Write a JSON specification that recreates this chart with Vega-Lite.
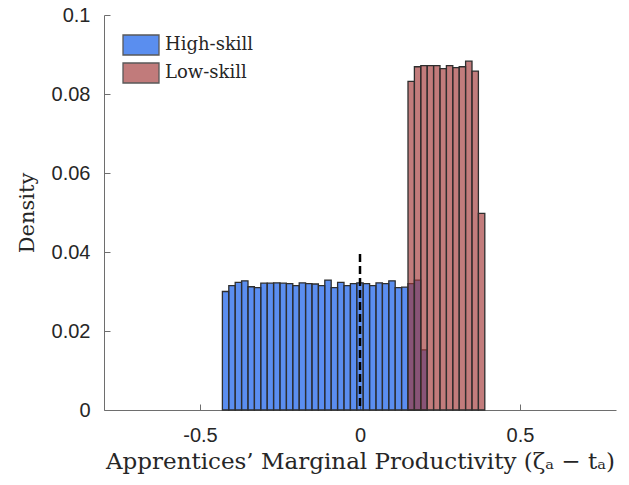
{
  "$schema": "https://vega.github.io/schema/vega-lite/v6.json",
  "width": 512,
  "height": 395,
  "autosize": "none",
  "padding": {"left": 104, "top": 15, "right": 13, "bottom": 75},
  "background": "white",
  "datasets": {
    "bins": [
      {"series": "High-skill", "x0": -0.43, "x1": -0.41, "density": 0.0300},
      {"series": "High-skill", "x0": -0.41, "x1": -0.39, "density": 0.0315},
      {"series": "High-skill", "x0": -0.39, "x1": -0.37, "density": 0.0323},
      {"series": "High-skill", "x0": -0.37, "x1": -0.35, "density": 0.0327},
      {"series": "High-skill", "x0": -0.35, "x1": -0.33, "density": 0.0312},
      {"series": "High-skill", "x0": -0.33, "x1": -0.31, "density": 0.0310},
      {"series": "High-skill", "x0": -0.31, "x1": -0.29, "density": 0.0321},
      {"series": "High-skill", "x0": -0.29, "x1": -0.27, "density": 0.0321},
      {"series": "High-skill", "x0": -0.27, "x1": -0.25, "density": 0.0322},
      {"series": "High-skill", "x0": -0.25, "x1": -0.23, "density": 0.0321},
      {"series": "High-skill", "x0": -0.23, "x1": -0.21, "density": 0.0320},
      {"series": "High-skill", "x0": -0.21, "x1": -0.19, "density": 0.0315},
      {"series": "High-skill", "x0": -0.19, "x1": -0.17, "density": 0.0322},
      {"series": "High-skill", "x0": -0.17, "x1": -0.15, "density": 0.0320},
      {"series": "High-skill", "x0": -0.15, "x1": -0.13, "density": 0.0319},
      {"series": "High-skill", "x0": -0.13, "x1": -0.11, "density": 0.0315},
      {"series": "High-skill", "x0": -0.11, "x1": -0.09, "density": 0.0329},
      {"series": "High-skill", "x0": -0.09, "x1": -0.07, "density": 0.0310},
      {"series": "High-skill", "x0": -0.07, "x1": -0.05, "density": 0.0323},
      {"series": "High-skill", "x0": -0.05, "x1": -0.03, "density": 0.0315},
      {"series": "High-skill", "x0": -0.03, "x1": -0.01, "density": 0.0320},
      {"series": "High-skill", "x0": -0.01, "x1": 0.01, "density": 0.0322},
      {"series": "High-skill", "x0": 0.01, "x1": 0.03, "density": 0.0320},
      {"series": "High-skill", "x0": 0.03, "x1": 0.05, "density": 0.0315},
      {"series": "High-skill", "x0": 0.05, "x1": 0.07, "density": 0.0322},
      {"series": "High-skill", "x0": 0.07, "x1": 0.09, "density": 0.0320},
      {"series": "High-skill", "x0": 0.09, "x1": 0.11, "density": 0.0327},
      {"series": "High-skill", "x0": 0.11, "x1": 0.13, "density": 0.0310},
      {"series": "High-skill", "x0": 0.13, "x1": 0.15, "density": 0.0311},
      {"series": "High-skill", "x0": 0.15, "x1": 0.17, "density": 0.0320},
      {"series": "High-skill", "x0": 0.17, "x1": 0.19, "density": 0.0329},
      {"series": "High-skill", "x0": 0.19, "x1": 0.21, "density": 0.0152},
      {"series": "Low-skill", "x0": 0.15, "x1": 0.17, "density": 0.0832},
      {"series": "Low-skill", "x0": 0.17, "x1": 0.19, "density": 0.0869},
      {"series": "Low-skill", "x0": 0.19, "x1": 0.21, "density": 0.0872},
      {"series": "Low-skill", "x0": 0.21, "x1": 0.23, "density": 0.0872},
      {"series": "Low-skill", "x0": 0.23, "x1": 0.25, "density": 0.0872},
      {"series": "Low-skill", "x0": 0.25, "x1": 0.27, "density": 0.0864},
      {"series": "Low-skill", "x0": 0.27, "x1": 0.29, "density": 0.0872},
      {"series": "Low-skill", "x0": 0.29, "x1": 0.31, "density": 0.0867},
      {"series": "Low-skill", "x0": 0.31, "x1": 0.33, "density": 0.0869},
      {"series": "Low-skill", "x0": 0.33, "x1": 0.35, "density": 0.0883},
      {"series": "Low-skill", "x0": 0.35, "x1": 0.37, "density": 0.0858},
      {"series": "Low-skill", "x0": 0.37, "x1": 0.39, "density": 0.0498}
    ],
    "marker": [{"x": 0, "top": 0.0395, "bottom": 0}]
  },
  "layer": [
    {
      "data": {"name": "bins"},
      "mark": {"type": "bar", "fillOpacity": 0.65, "stroke": "#2e2e2e", "strokeWidth": 1.3},
      "encoding": {
        "x": {
          "field": "x0", "type": "quantitative",
          "scale": {"domain": [-0.8, 0.8], "nice": false, "zero": false},
          "axis": {
            "title": "Apprentices’ Marginal Productivity (ζₐ − tₐ)",
            "values": [-0.5, 0, 0.5],
            "format": "~g",
            "labelExpr": "replace(datum.label, '−', '-')"
          }
        },
        "x2": {"field": "x1"},
        "y": {
          "field": "density", "type": "quantitative",
          "scale": {"domain": [0, 0.1], "nice": false},
          "axis": {
            "title": "Density",
            "values": [0, 0.02, 0.04, 0.06, 0.08, 0.1],
            "format": "~g"
          }
        },
        "y2": {"datum": 0},
        "color": {
          "field": "series", "type": "nominal",
          "scale": {"domain": ["High-skill", "Low-skill"], "range": ["#0352e8", "#a13636"]},
          "legend": {
            "title": null,
            "orient": "none",
            "legendX": 18,
            "legendY": 19,
            "padding": 0,
            "symbolType": "M-1,-1H2.6V1H-1Z",
            "symbolSize": 400,
            "symbolOpacity": 0.65,
            "symbolStrokeColor": "#000000",
            "symbolStrokeWidth": 1.3,
            "labelFont": "DejaVu Serif",
            "labelFontSize": 18,
            "labelColor": "#262626",
            "labelOffset": 21,
            "rowPadding": 2
          }
        },
        "order": {"field": "series"}
      }
    },
    {
      "data": {"name": "marker"},
      "mark": {"type": "rule", "color": "#000000", "strokeWidth": 2.5, "strokeDash": [8, 4]},
      "encoding": {
        "x": {"field": "x", "type": "quantitative"},
        "y": {"field": "top", "type": "quantitative"},
        "y2": {"field": "bottom"}
      }
    }
  ],
  "config": {
    "view": {"stroke": null},
    "axis": {
      "grid": false,
      "domainColor": "#6e6e6e",
      "tickColor": "#6e6e6e",
      "tickSize": -6,
      "labelFont": "Liberation Sans",
      "labelFontSize": 20,
      "labelColor": "#262626",
      "titleFont": "DejaVu Serif",
      "titleFontWeight": "normal",
      "titleColor": "#262626",
      "titleFontSize": 22
    },
    "axisX": {"labelPadding": 21, "titlePadding": 5, "titleFontSize": 23},
    "axisY": {"labelPadding": 20, "titlePadding": 14, "titleFontSize": 21}
  }
}
